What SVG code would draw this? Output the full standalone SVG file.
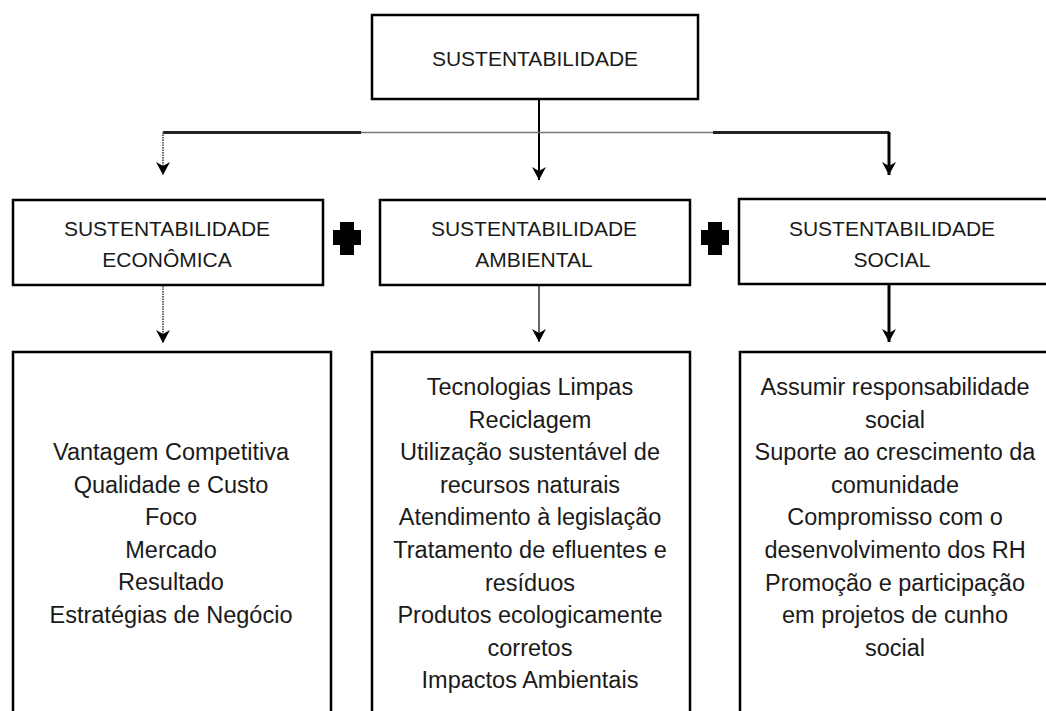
<svg xmlns="http://www.w3.org/2000/svg" width="1046" height="711" viewBox="0 0 1046 711">
<defs>
<style>
.box{fill:#fff;stroke:#000;stroke-width:2.5}
.hd{font-family:"Liberation Sans",Arial,sans-serif;font-size:21px;fill:#1a1a1a;text-anchor:middle}
.bd{font-family:"Liberation Sans",Arial,sans-serif;font-size:23.5px;fill:#1a1a1a;text-anchor:middle}
.plus{fill:#000}
.thin{stroke:#000;stroke-width:1.5;fill:none}
.thick{stroke:#000;stroke-width:3;fill:none}
.gray{stroke:#666;stroke-width:2;stroke-dasharray:1.5 1;fill:none}
.hl{stroke:#777;stroke-width:1.6;fill:none}
.hd3{stroke:#222;stroke-width:3;fill:none}
</style>
<marker id="ah" markerUnits="userSpaceOnUse" markerWidth="16" markerHeight="16" viewBox="0 0 16 16" refX="8" refY="15" orient="0">
<path d="M1,2 L8,6 L15,2 L8,15 Z" fill="#000"/>
</marker>
</defs>
<g id="connectors">
<line class="thin" x1="539" y1="99" x2="539" y2="180" marker-end="url(#ah)" style="stroke-width:2"/>
<line class="hl" x1="163" y1="132.5" x2="889" y2="132.5"/>
<line class="hd3" x1="163" y1="132.5" x2="361" y2="132.5"/>
<line class="hd3" x1="713" y1="132.5" x2="889" y2="132.5"/>
<line class="gray" x1="163" y1="132" x2="163" y2="175" marker-end="url(#ah)"/>
<line class="thick" x1="889" y1="132" x2="889" y2="175" marker-end="url(#ah)"/>
<line class="gray" x1="163" y1="286" x2="163" y2="343" marker-end="url(#ah)"/>
<line class="thin" x1="539" y1="286" x2="539" y2="342" marker-end="url(#ah)" style="stroke-width:1.2"/>
<line class="thick" x1="889" y1="285" x2="889" y2="342" marker-end="url(#ah)"/>
</g>
<g id="sustentabilidade">
<rect class="box" x="372" y="15" width="326" height="84"/>
<text class="hd" x="535" y="66">SUSTENTABILIDADE</text>
</g>
<g id="economica">
<rect class="box" x="13" y="200" width="310" height="85"/>
<text class="hd" x="167" y="236">SUSTENTABILIDADE</text>
<text class="hd" x="167" y="267">ECONÔMICA</text>
</g>
<g id="plus1">
<path class="plus" d="M340,222 H354 V230 H361 V245 H354 V255 H340 V245 H333 V230 H340 Z"/>
</g>
<g id="ambiental">
<rect class="box" x="380" y="200" width="310" height="85"/>
<text class="hd" x="534" y="236">SUSTENTABILIDADE</text>
<text class="hd" x="534" y="267">AMBIENTAL</text>
</g>
<g id="plus2">
<path class="plus" d="M708,222 H722 V230 H729 V245 H722 V255 H708 V245 H701 V230 H708 Z"/>
</g>
<g id="social">
<rect class="box" x="739" y="199" width="320" height="85"/>
<text class="hd" x="892" y="236">SUSTENTABILIDADE</text>
<text class="hd" x="892" y="267">SOCIAL</text>
</g>
<g id="economica-itens">
<rect class="box" x="13" y="352" width="318" height="370"/>
<text class="bd" x="171" y="460">Vantagem Competitiva</text>
<text class="bd" x="171" y="492.6">Qualidade e Custo</text>
<text class="bd" x="171" y="525.2">Foco</text>
<text class="bd" x="171" y="557.8">Mercado</text>
<text class="bd" x="171" y="590.4">Resultado</text>
<text class="bd" x="171" y="623">Estratégias de Negócio</text>
</g>
<g id="ambiental-itens">
<rect class="box" x="372" y="352" width="318" height="370"/>
<text class="bd" x="530" y="395">Tecnologias Limpas</text>
<text class="bd" x="530" y="427.6">Reciclagem</text>
<text class="bd" x="530" y="460.2">Utilização sustentável de</text>
<text class="bd" x="530" y="492.8">recursos naturais</text>
<text class="bd" x="530" y="525.4">Atendimento à legislação</text>
<text class="bd" x="530" y="558">Tratamento de efluentes e</text>
<text class="bd" x="530" y="590.6">resíduos</text>
<text class="bd" x="530" y="623.2">Produtos ecologicamente</text>
<text class="bd" x="530" y="655.8">corretos</text>
<text class="bd" x="530" y="688.4">Impactos Ambientais</text>
</g>
<g id="social-itens">
<rect class="box" x="740" y="352" width="320" height="370"/>
<text class="bd" x="895" y="395">Assumir responsabilidade</text>
<text class="bd" x="895" y="427.6">social</text>
<text class="bd" x="895" y="460.2">Suporte ao crescimento da</text>
<text class="bd" x="895" y="492.8">comunidade</text>
<text class="bd" x="895" y="525.4">Compromisso com o</text>
<text class="bd" x="895" y="558">desenvolvimento dos RH</text>
<text class="bd" x="895" y="590.6">Promoção e participação</text>
<text class="bd" x="895" y="623.2">em projetos de cunho</text>
<text class="bd" x="895" y="655.8">social</text>
</g>
</svg>
